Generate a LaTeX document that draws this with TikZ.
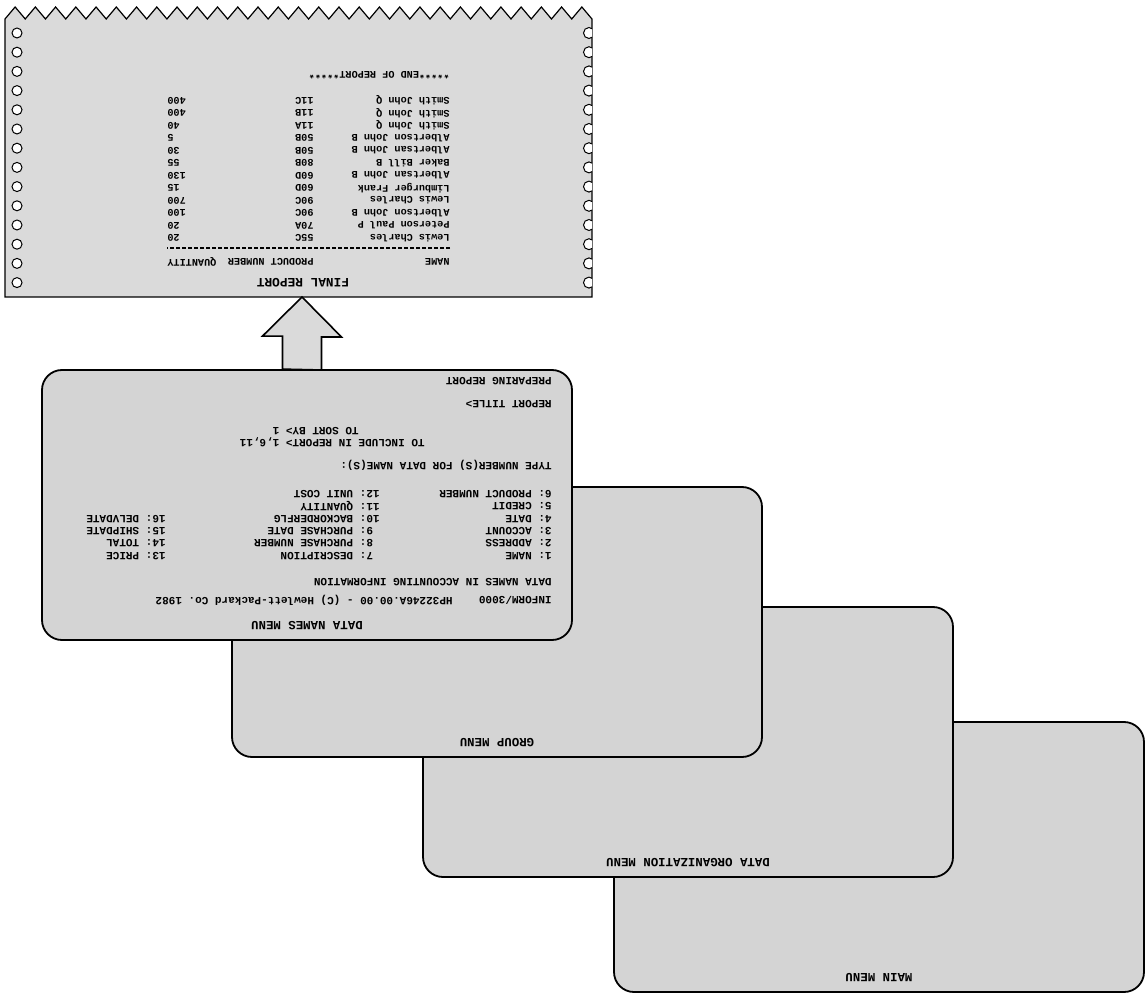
\documentclass[tikz,border=0pt]{standalone}
\usepackage{fontspec}
\setmonofont{Liberation Mono}
\usetikzlibrary{positioning,calc}
\definecolor{scrgray}{HTML}{D4D4D4}
\definecolor{papgray}{HTML}{DADADA}
\tikzset{
  screen/.style={rectangle, rounded corners=10pt, draw=black, line width=0.9pt,
                 fill=scrgray, minimum width=265pt, minimum height=135pt},
  scrtxt/.style={font=\ttfamily\bfseries\fontsize{5.5}{6}\selectfont, rotate=180,
                 inner sep=0pt, anchor=west},
  scrtitle/.style={font=\ttfamily\bfseries\fontsize{6.2}{7}\selectfont,
                   rotate=180, inner sep=0pt},
  paptxt/.style={font=\ttfamily\bfseries\fontsize{5.1}{6}\selectfont, rotate=180,
                 inner sep=0pt, anchor=west},
  paper/.style={fill=papgray, draw=black, line width=0.6pt, line join=miter},
  hole/.style={draw=black, line width=0.5pt, fill=white},
  bigarrow/.style={draw=black, line width=0.8pt, fill=papgray, line join=miter}
}

\begin{document}
\begin{tikzpicture}[x=0.5pt, y=-0.5pt]
\useasboundingbox (0,0) rectangle (1145,994);

% stacked screens, back to front
\coordinate (c0) at (307,505);
\node[screen] (mm) at ($(c0)+(572,352)$) {};
\node[screen] (do) at ($(c0)+(381,237)$) {};
\node[screen] (gm) at ($(c0)+(190,117)$) {};
\node[screen] (dn) at (c0) {};
\node[scrtitle] (mmlbl) at ([yshift=7.5pt]mm.south) {MAIN MENU};
\node[scrtitle] (dolbl) at ([yshift=7.5pt]do.south) {DATA ORGANIZATION MENU};
\node[scrtitle] (gmlbl) at ([yshift=7.5pt]gm.south) {GROUP MENU};
\node[scrtitle] (dnlbl) at ([yshift=7.5pt]dn.south) {DATA NAMES MENU};

% data names screen
\node[scrtxt] (inform) at (552,600) {INFORM/3000};
\node[scrtxt] (hpcopy) at (453,600) {HP32246A.00.00 - (C) Hewlett-Packard Co. 1982};
\node[scrtxt] (accinfo) at (552,582) {DATA NAMES IN ACCOUNTING INFORMATION};
\foreach \t [count=\r from 0] in {1: NAME, 2: ADDRESS, 3: ACCOUNT, 4: DATE, 5: CREDIT, 6: PRODUCT NUMBER}
  \node[scrtxt] (cola\r) at (552,{556-\r*12.4}) {\t};
\foreach \t [count=\r from 0] in {\phantom{1}7: DESCRIPTION, \phantom{1}8: PURCHASE NUMBER, \phantom{1}9: PURCHASE DATE, 10: BACKORDERFLG, 11: QUANTITY, 12: UNIT COST}
  \node[scrtxt] (colb\r) at (380,{556-\r*12.4}) {\t};
\foreach \t [count=\r from 0] in {13: PRICE, 14: TOTAL, 15: SHIPDATE, 16: DELVDATE}
  \node[scrtxt] (colc\r) at (166,{556-\r*12.4}) {\t};
\node[scrtxt] (typenum) at (552,465) {TYPE NUMBER(S) FOR DATA NAME(S):};
\node[scrtxt] (incl) at (425,442) {TO INCLUDE IN REPORT> 1,6,11};
\node[scrtxt] (sortby) at (359,431) {TO SORT BY> 1};
\node[scrtxt] (rtitle) at (552,404) {REPORT TITLE>};
\node[scrtxt] (prep) at (552,381) {PREPARING REPORT};

% printed report
\path[paper] (5,297) -- (5,19)
  \foreach \t in {1,...,29}{ -- ({5+(\t-0.5)*20.24},7) -- ({5+\t*20.24},19)}
  -- (592,297) -- cycle;
\begin{scope}
  \clip (5,0) rectangle (592,297);
  \foreach \k in {0,...,13} {
    \draw[hole] (17,{33+\k*19.2}) circle (5);
    \draw[hole] (589,{33+\k*19.2}) circle (5.5);
  }
\end{scope}
\node[scrtitle, font=\ttfamily\bfseries\fontsize{6.4}{7}\selectfont] (frep) at (303,283) {FINAL REPORT};
\node[paptxt] (hname) at (450,262) {NAME};
\node[paptxt] (hprod) at (314,262) {PRODUCT NUMBER};
\node[paptxt, anchor=east] (hqty) at (167,262) {QUANTITY};
\draw[dash pattern=on 2pt off 1pt, line width=0.6pt] (hname.west |- 0,248) -- (hqty.east |- 0,248);
\foreach \nm/\pc/\qt [count=\r from 0] in {Lewis Charles/55C/20, Peterson Paul P/70A/20,
    Albertson John B/90C/100, Lewis Charles/90C/700, Limburger Frank/60D/15,
    Albertsan John B/60D/130, Baker Bill B/80B/55, Albertsan John B/50B/30,
    Albertson John B/50B/5, Smith John Q/11A/40, Smith John Q/11B/400, Smith John Q/11C/400} {
  \node[paptxt] (nm\r) at (450,{238-\r*12.5}) {\nm};
  \node[paptxt] (pc\r) at (314,{238-\r*12.5}) {\pc};
  \node[paptxt, anchor=east] (qt\r) at (167,{238-\r*12.5}) {\qt};
}
\node[paptxt] (eor) at (450,75) {*****END OF REPORT*****};

% block arrow from screen to report
\coordinate (tip) at (302,297);
\coordinate (tail) at (tip |- dn.north);
\draw[bigarrow] (tail) ++(-19.5,0) -- ++(0,-33) -- ++(-20,0) -- (tip)
  -- ++(39.5,40) -- ++(-20,0) -- ++(0,33) -- cycle;
\end{tikzpicture}
\end{document}
